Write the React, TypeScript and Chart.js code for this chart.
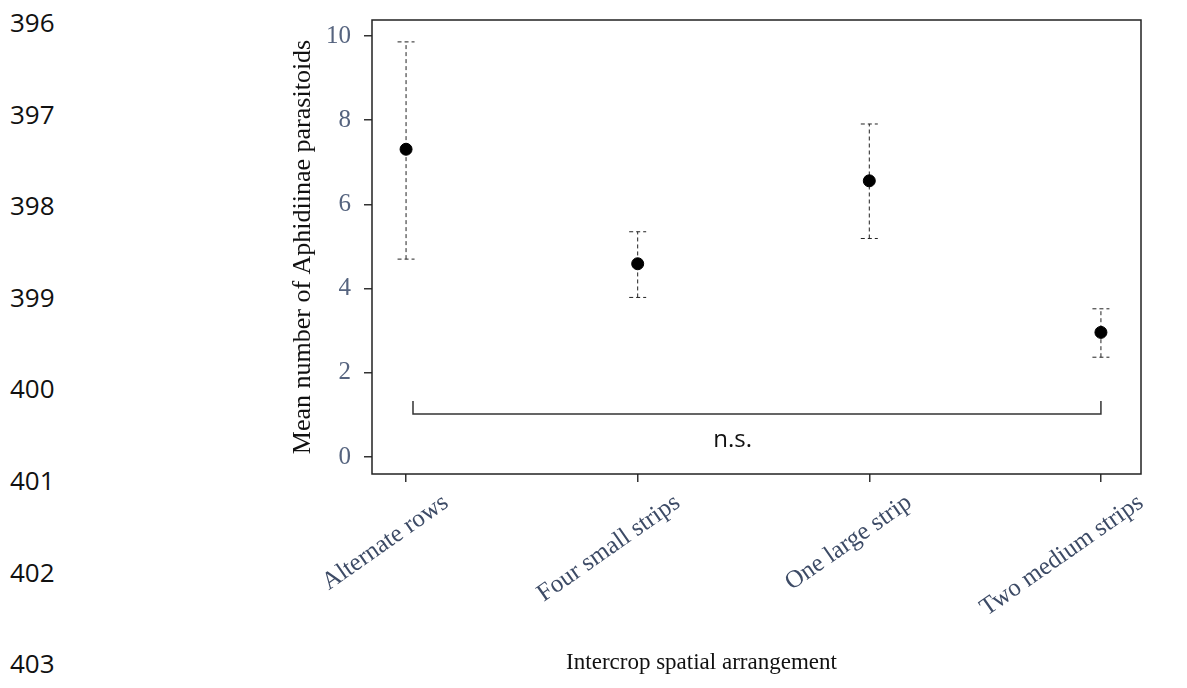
import React, { useEffect, useRef } from 'react';
import { Chart, registerables } from 'chart.js';

Chart.register(...registerables);

// ---- data ----
const categories = ['Alternate rows', 'Four small strips', 'One large strip', 'Two medium strips'];
const means = [7.31, 4.59, 6.56, 2.96];
const lowerCI = [4.7, 3.79, 5.19, 2.37];
const upperCI = [9.86, 5.35, 7.91, 3.52];
const yTicks = [0, 2, 4, 6, 8, 10];
const lineNumbers = ['396', '397', '398', '399', '400', '401', '402', '403'];
const bracketLabel = 'n.s.';
const bracketFrom = 0.03;
const bracketTo = 3;
const bracketY = 1.02;
const bracketTipY = 1.33;
const bracketLabelX = 1.41;
const bracketLabelY = 0.4;

const SERIF = '"Liberation Serif", "Times New Roman", serif';
const SANS = '"Open Sans", "Noto Sans", sans-serif';

const framePlugin = {
  id: 'frame',
  afterDraw(chart: any) {
    const { ctx, chartArea: a } = chart;
    ctx.save();
    ctx.strokeStyle = '#222';
    ctx.lineWidth = 1.5;
    ctx.strokeRect(a.left, a.top, a.right - a.left, a.bottom - a.top);
    ctx.restore();
  },
};

const errorBarPlugin = {
  id: 'errorBars',
  beforeDatasetsDraw(chart: any) {
    const { ctx } = chart;
    const xs = chart.scales.x;
    const ys = chart.scales.y;
    ctx.save();
    ctx.strokeStyle = '#222';
    ctx.lineWidth = 1;
    ctx.setLineDash([4, 3]);
    const half = 8.5;
    categories.forEach((_, i) => {
      const px = xs.getPixelForValue(i);
      const yl = ys.getPixelForValue(lowerCI[i]);
      const yu = ys.getPixelForValue(upperCI[i]);
      ctx.beginPath();
      ctx.moveTo(px, yl);
      ctx.lineTo(px, yu);
      ctx.moveTo(px - half, yl);
      ctx.lineTo(px + half, yl);
      ctx.moveTo(px - half, yu);
      ctx.lineTo(px + half, yu);
      ctx.stroke();
    });
    ctx.restore();
  },
};

const bracketPlugin = {
  id: 'bracket',
  afterDatasetsDraw(chart: any) {
    const { ctx } = chart;
    const xs = chart.scales.x;
    const ys = chart.scales.y;
    const x1 = xs.getPixelForValue(bracketFrom);
    const x2 = xs.getPixelForValue(bracketTo);
    const yb = ys.getPixelForValue(bracketY);
    const yt = ys.getPixelForValue(bracketTipY);
    ctx.save();
    ctx.strokeStyle = '#333';
    ctx.lineWidth = 1.5;
    ctx.beginPath();
    ctx.moveTo(x1, yt);
    ctx.lineTo(x1, yb);
    ctx.lineTo(x2, yb);
    ctx.lineTo(x2, yt);
    ctx.stroke();
    ctx.fillStyle = '#111';
    ctx.font = `24px ${SANS}`;
    ctx.textAlign = 'center';
    ctx.textBaseline = 'middle';
    ctx.fillText(bracketLabel, xs.getPixelForValue(bracketLabelX), ys.getPixelForValue(bracketLabelY));
    ctx.restore();
  },
};

export default function App() {
  const ref = useRef<HTMLCanvasElement>(null);

  useEffect(() => {
    if (!ref.current) return;
    const chart = new Chart(ref.current, {
      type: 'scatter',
      data: {
        datasets: [
          {
            data: means.map((m, i) => ({ x: i, y: m })),
            pointRadius: 6,
            pointHoverRadius: 6,
            backgroundColor: '#000',
            borderColor: '#000',
            showLine: false,
          },
        ],
      },
      options: {
        responsive: false,
        animation: false,
        layout: { padding: { left: 262, right: 46, top: 20, bottom: 0 } },
        plugins: {
          legend: { display: false },
          tooltip: { enabled: false },
          title: {
            display: true,
            position: 'bottom',
            text: 'Intercrop spatial arrangement',
            color: '#111',
            font: { family: SERIF, size: 23, weight: 'normal' },
            padding: { top: 0, bottom: 11 },
          },
        },
        scales: {
          x: {
            type: 'linear',
            min: -0.147,
            max: 3.173,
            afterBuildTicks: (s: any) => {
              s.ticks = categories.map((_, i) => ({ value: i }));
            },
            afterFit: (s: any) => {
              s.height = 175.4;
              s.paddingLeft = 0;
              s.paddingRight = 0;
            },
            ticks: {
              autoSkip: false,
              minRotation: 35,
              maxRotation: 35,
              padding: 6,
              labelOffset: 40,
              color: '#3d4b66',
              font: { family: SERIF, size: 25 },
              callback: (v: any) => categories[v] ?? '',
            },
            grid: {
              drawOnChartArea: false,
              drawTicks: true,
              tickLength: 8,
              tickColor: '#333',
              color: '#333',
              lineWidth: 1.5,
            },
            border: { display: false },
          },
          y: {
            type: 'linear',
            min: -0.404,
            max: 10.38,
            afterBuildTicks: (s: any) => {
              s.ticks = yTicks.map((v) => ({ value: v }));
            },
            afterFit: (s: any) => {
              s.width = 110;
              s.paddingTop = 0;
              s.paddingBottom = 0;
            },
            ticks: {
              padding: 13,
              color: '#56647f',
              font: { family: SERIF, size: 25 },
            },
            grid: {
              drawOnChartArea: false,
              drawTicks: true,
              tickLength: 8,
              tickColor: '#333',
              color: '#333',
              lineWidth: 1.5,
            },
            border: { display: false },
            title: {
              display: true,
              text: 'Mean number of Aphidiinae parasitoids',
              color: '#111',
              font: { family: SERIF, size: 26 },
              padding: { top: 26, bottom: 0 },
            },
          },
        },
      },
      plugins: [errorBarPlugin, bracketPlugin, framePlugin],
    } as any);
    return () => chart.destroy();
  }, []);

  return (
    <div style={{ position: 'absolute', left: 0, top: 0, width: 1187, height: 688, background: '#fff' }}>
      {lineNumbers.map((n, i) => (
        <div
          key={n}
          style={{
            position: 'absolute',
            left: 10,
            top: 22 + i * 91.6 - 16,
            height: 32,
            lineHeight: '32px',
            fontFamily: SANS,
            fontSize: 26,
            color: '#111',
          }}
        >
          {n}
        </div>
      ))}
      <canvas ref={ref} width={1187} height={688} style={{ position: 'absolute', left: 0, top: 0 }} />
    </div>
  );
}
